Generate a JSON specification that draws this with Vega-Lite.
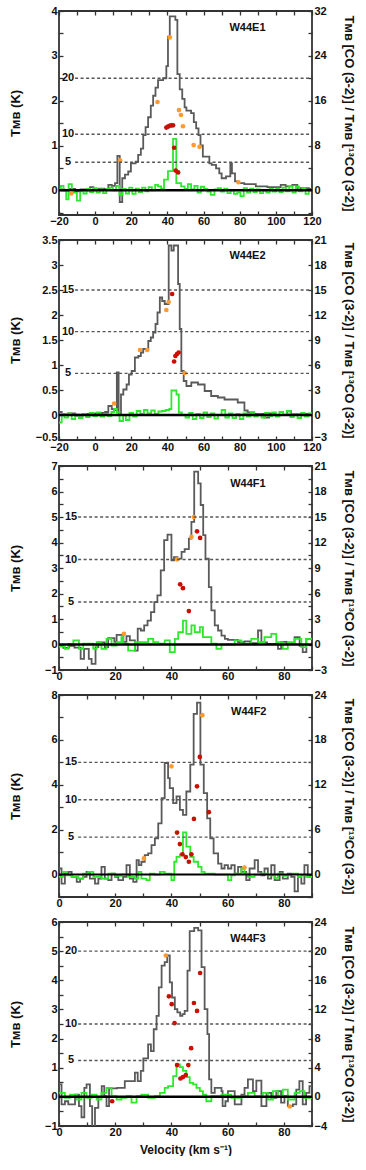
{
"$schema": "https://vega.github.io/schema/vega-lite/v6.json",
"padding": {"left": 8, "top": 4, "right": 0, "bottom": 0},
"spacing": 6,
"config": {
  "font": "Liberation Sans",
  "view": {"stroke": "#333", "strokeWidth": 1.8},
  "axis": {"domain": false, "grid": false, "labelFont": "Liberation Sans", "labelFontWeight": "bold", "labelFontSize": 11, "labelColor": "#111", "tickColor": "#333", "tickSize": -4, "tickWidth": 1.3, "labelFlush": false, "labelOverlap": false, "titleFont": "Liberation Sans", "titleFontWeight": "bold", "titleFontSize": 13, "titleColor": "#111"},
  "axisX": {"labelPadding": 4},
  "axisY": {"labelPadding": 6}
},
"datasets": {
"p1": [
{"s":"co","v":-20,"t":0.02},{"s":"co","v":-17,"t":0.0},{"s":"co","v":-14,"t":0.03},{"s":"co","v":-11,"t":-0.02},{"s":"co","v":-8,"t":0.02},{"s":"co","v":-5,"t":0.0},{"s":"co","v":-2.8,"t":0.07},{"s":"co","v":-0.9,"t":0.02},{"s":"co","v":2,"t":0.04},{"s":"co","v":5,"t":0.03},{"s":"co","v":7.3,"t":0.12},{"s":"co","v":9.2,"t":0.1},{"s":"co","v":11,"t":0.16},{"s":"co","v":12.3,"t":0.77},{"s":"co","v":13.6,"t":-0.26},{"s":"co","v":15,"t":0.27},{"s":"co","v":16.5,"t":0.35},{"s":"co","v":18.3,"t":0.42},{"s":"co","v":19.8,"t":0.6},{"s":"co","v":22.4,"t":0.64},{"s":"co","v":23.8,"t":0.79},{"s":"co","v":25.3,"t":0.93},{"s":"co","v":26.6,"t":1.23},{"s":"co","v":27.9,"t":1.41},{"s":"co","v":29.3,"t":1.63},{"s":"co","v":30.8,"t":1.89},{"s":"co","v":32.1,"t":2.11},{"s":"co","v":33.4,"t":2.29},{"s":"co","v":34.8,"t":2.46},{"s":"co","v":37.6,"t":2.5},{"s":"co","v":39.4,"t":2.77},{"s":"co","v":40.3,"t":3.43},{"s":"co","v":41.3,"t":3.88},{"s":"co","v":44.4,"t":3.8},{"s":"co","v":45.5,"t":2.59},{"s":"co","v":46.8,"t":2.25},{"s":"co","v":48.2,"t":2.04},{"s":"co","v":49.5,"t":1.85},{"s":"co","v":50.5,"t":1.78},{"s":"co","v":53.1,"t":1.72},{"s":"co","v":54.6,"t":1.52},{"s":"co","v":55.9,"t":1.38},{"s":"co","v":57.2,"t":1.23},{"s":"co","v":58.3,"t":1.0},{"s":"co","v":59.6,"t":0.75},{"s":"co","v":63.2,"t":0.6},{"s":"co","v":64.5,"t":0.57},{"s":"co","v":66.9,"t":0.49},{"s":"co","v":68.7,"t":0.38},{"s":"co","v":70,"t":0.27},{"s":"co","v":72.4,"t":0.31},{"s":"co","v":74.8,"t":0.6},{"s":"co","v":75.7,"t":0.38},{"s":"co","v":77.4,"t":0.2},{"s":"co","v":79.2,"t":0.16},{"s":"co","v":82.5,"t":0.14},{"s":"co","v":88.9,"t":0.09},{"s":"co","v":95.3,"t":0.07},{"s":"co","v":102.7,"t":0.12},{"s":"co","v":105.4,"t":0.09},{"s":"co","v":109.1,"t":0.12},{"s":"co","v":111.9,"t":0.05},{"s":"co","v":118.3,"t":0.03},{"s":"co","v":120,"t":0.03},
{"s":"c13","v":-20,"t":0.02},{"s":"c13","v":-19,"t":0.1},{"s":"c13","v":-17.5,"t":0.0},{"s":"c13","v":-16,"t":-0.2},{"s":"c13","v":-14.7,"t":0.14},{"s":"c13","v":-12.9,"t":-0.05},{"s":"c13","v":-10.1,"t":-0.23},{"s":"c13","v":-8.3,"t":0.0},{"s":"c13","v":-6.5,"t":-0.07},{"s":"c13","v":-4.7,"t":0.03},{"s":"c13","v":-2.8,"t":-0.04},{"s":"c13","v":-1,"t":0.05},{"s":"c13","v":0.8,"t":-0.05},{"s":"c13","v":2.6,"t":0.02},{"s":"c13","v":4.4,"t":-0.06},{"s":"c13","v":6.2,"t":0.03},{"s":"c13","v":8,"t":0.06},{"s":"c13","v":9.8,"t":0.0},{"s":"c13","v":11.6,"t":0.1},{"s":"c13","v":13.4,"t":-0.1},{"s":"c13","v":15.2,"t":0.03},{"s":"c13","v":17,"t":-0.07},{"s":"c13","v":18.8,"t":0.06},{"s":"c13","v":20.6,"t":-0.08},{"s":"c13","v":22.4,"t":0.04},{"s":"c13","v":24.2,"t":-0.04},{"s":"c13","v":26,"t":0.06},{"s":"c13","v":27.8,"t":-0.02},{"s":"c13","v":29.6,"t":0.07},{"s":"c13","v":31.4,"t":0.0},{"s":"c13","v":33.2,"t":0.12},{"s":"c13","v":34.8,"t":0.09},{"s":"c13","v":36.5,"t":0.04},{"s":"c13","v":38.1,"t":0.24},{"s":"c13","v":40.3,"t":0.43},{"s":"c13","v":43.1,"t":1.15},{"s":"c13","v":44.9,"t":0.16},{"s":"c13","v":47.6,"t":0.09},{"s":"c13","v":49.5,"t":0.03},{"s":"c13","v":51.3,"t":0.14},{"s":"c13","v":53.1,"t":0.02},{"s":"c13","v":54.9,"t":0.1},{"s":"c13","v":56.7,"t":-0.05},{"s":"c13","v":58.5,"t":0.08},{"s":"c13","v":60.3,"t":0.03},{"s":"c13","v":62.1,"t":-0.03},{"s":"c13","v":64,"t":-0.1},{"s":"c13","v":66,"t":0.02},{"s":"c13","v":67.8,"t":0.05},{"s":"c13","v":69.6,"t":-0.03},{"s":"c13","v":71.4,"t":0.04},{"s":"c13","v":73.2,"t":-0.06},{"s":"c13","v":75,"t":0.0},{"s":"c13","v":76.8,"t":-0.08},{"s":"c13","v":78.6,"t":-0.05},{"s":"c13","v":80.4,"t":-0.13},{"s":"c13","v":82.2,"t":0.05},{"s":"c13","v":84,"t":-0.05},{"s":"c13","v":85.8,"t":0.04},{"s":"c13","v":87.6,"t":-0.04},{"s":"c13","v":89.4,"t":0.02},{"s":"c13","v":91.2,"t":-0.06},{"s":"c13","v":93,"t":0.0},{"s":"c13","v":94.8,"t":-0.05},{"s":"c13","v":96.6,"t":0.03},{"s":"c13","v":98.4,"t":-0.03},{"s":"c13","v":100.2,"t":0.04},{"s":"c13","v":102,"t":-0.04},{"s":"c13","v":103.8,"t":0.06},{"s":"c13","v":105.6,"t":-0.02},{"s":"c13","v":107.4,"t":0.09},{"s":"c13","v":109.2,"t":-0.05},{"s":"c13","v":111,"t":0.08},{"s":"c13","v":112.8,"t":-0.02},{"s":"c13","v":114.6,"t":0.05},{"s":"c13","v":116.4,"t":-0.08},{"s":"c13","v":118.2,"t":0.0},{"s":"c13","v":120,"t":0.0},
{"s":"o","v":-13.2,"t":-0.07},{"s":"o","v":13.8,"t":0.67},{"s":"o","v":34.5,"t":1.97},{"s":"o","v":41.3,"t":3.41},{"s":"o","v":46.4,"t":1.79},{"s":"o","v":47.5,"t":1.68},{"s":"o","v":48.6,"t":1.43},{"s":"o","v":54.5,"t":1.01},{"s":"o","v":57.8,"t":0.97},{"s":"o","v":79.3,"t":0.18},
{"s":"r","v":39.4,"t":1.4},{"s":"r","v":40.3,"t":1.42},{"s":"r","v":41.2,"t":1.44},{"s":"r","v":42.1,"t":1.45},{"s":"r","v":43.1,"t":1.45},{"s":"r","v":43.7,"t":0.95},{"s":"r","v":44.6,"t":0.44},{"s":"r","v":45.9,"t":0.4}
],
"p2": [
{"s":"co","v":-20,"t":0.06},{"s":"co","v":-18.5,"t":0.01},{"s":"co","v":-15,"t":0.03},{"s":"co","v":-11,"t":-0.01},{"s":"co","v":-7,"t":0.02},{"s":"co","v":-3,"t":0.0},{"s":"co","v":0,"t":0.03},{"s":"co","v":3.7,"t":0.04},{"s":"co","v":5.5,"t":0.06},{"s":"co","v":7.3,"t":0.18},{"s":"co","v":9.2,"t":0.12},{"s":"co","v":10.5,"t":0.1},{"s":"co","v":12,"t":0.85},{"s":"co","v":13,"t":0.03},{"s":"co","v":14.3,"t":0.41},{"s":"co","v":15.6,"t":0.51},{"s":"co","v":17.4,"t":0.61},{"s":"co","v":18.7,"t":0.81},{"s":"co","v":20.2,"t":0.88},{"s":"co","v":22,"t":1.15},{"s":"co","v":23.9,"t":1.18},{"s":"co","v":25.3,"t":1.25},{"s":"co","v":26.6,"t":1.32},{"s":"co","v":29.4,"t":1.48},{"s":"co","v":30.8,"t":1.55},{"s":"co","v":32.1,"t":1.65},{"s":"co","v":33.4,"t":1.82},{"s":"co","v":34.5,"t":2.05},{"s":"co","v":35.8,"t":2.35},{"s":"co","v":37.1,"t":2.28},{"s":"co","v":38.5,"t":2.22},{"s":"co","v":40.7,"t":3.39},{"s":"co","v":42.2,"t":3.29},{"s":"co","v":43.5,"t":3.39},{"s":"co","v":45.9,"t":2.62},{"s":"co","v":46.8,"t":1.72},{"s":"co","v":47.7,"t":0.88},{"s":"co","v":49,"t":0.68},{"s":"co","v":50.5,"t":0.58},{"s":"co","v":53.2,"t":0.65},{"s":"co","v":56.9,"t":0.61},{"s":"co","v":60.6,"t":0.48},{"s":"co","v":64.2,"t":0.38},{"s":"co","v":67.9,"t":0.35},{"s":"co","v":71.6,"t":0.31},{"s":"co","v":78.9,"t":0.25},{"s":"co","v":82.6,"t":0.09},{"s":"co","v":84.4,"t":0.05},{"s":"co","v":88,"t":0.02},{"s":"co","v":93.6,"t":-0.05},{"s":"co","v":96.3,"t":0.03},{"s":"co","v":99,"t":0.0},{"s":"co","v":106.4,"t":0.08},{"s":"co","v":108.3,"t":0.01},{"s":"co","v":114,"t":0.02},{"s":"co","v":120,"t":0.02},
{"s":"c13","v":-20,"t":-0.15},{"s":"c13","v":-18.5,"t":0.02},{"s":"c13","v":-17,"t":-0.05},{"s":"c13","v":-15,"t":0.03},{"s":"c13","v":-13,"t":-0.08},{"s":"c13","v":-11,"t":0.01},{"s":"c13","v":-9,"t":-0.06},{"s":"c13","v":-7,"t":0.02},{"s":"c13","v":-5,"t":-0.04},{"s":"c13","v":-3,"t":0.04},{"s":"c13","v":-1,"t":-0.02},{"s":"c13","v":1,"t":0.05},{"s":"c13","v":3,"t":-0.03},{"s":"c13","v":5,"t":0.02},{"s":"c13","v":7,"t":-0.02},{"s":"c13","v":9,"t":0.06},{"s":"c13","v":10.5,"t":0.12},{"s":"c13","v":12,"t":0.05},{"s":"c13","v":13.5,"t":-0.12},{"s":"c13","v":15.5,"t":0.0},{"s":"c13","v":17,"t":-0.1},{"s":"c13","v":19,"t":0.04},{"s":"c13","v":21,"t":-0.03},{"s":"c13","v":23,"t":0.08},{"s":"c13","v":25,"t":0.02},{"s":"c13","v":27,"t":0.1},{"s":"c13","v":29,"t":0.03},{"s":"c13","v":31,"t":0.09},{"s":"c13","v":33,"t":0.02},{"s":"c13","v":35,"t":0.07},{"s":"c13","v":37,"t":0.08},{"s":"c13","v":39,"t":0.1},{"s":"c13","v":41,"t":0.12},{"s":"c13","v":42.2,"t":0.49},{"s":"c13","v":45,"t":0.41},{"s":"c13","v":46.3,"t":0.05},{"s":"c13","v":48,"t":0.0},{"s":"c13","v":50,"t":-0.05},{"s":"c13","v":52,"t":0.04},{"s":"c13","v":54,"t":-0.08},{"s":"c13","v":56,"t":0.02},{"s":"c13","v":58,"t":-0.06},{"s":"c13","v":60,"t":0.05},{"s":"c13","v":62,"t":-0.04},{"s":"c13","v":64,"t":0.03},{"s":"c13","v":66,"t":-0.07},{"s":"c13","v":68,"t":0.0},{"s":"c13","v":70,"t":0.1},{"s":"c13","v":72,"t":-0.05},{"s":"c13","v":74,"t":0.03},{"s":"c13","v":76,"t":-0.06},{"s":"c13","v":78,"t":0.02},{"s":"c13","v":80,"t":-0.08},{"s":"c13","v":82,"t":0.03},{"s":"c13","v":84,"t":-0.03},{"s":"c13","v":86,"t":0.05},{"s":"c13","v":88,"t":-0.03},{"s":"c13","v":90,"t":0.01},{"s":"c13","v":92,"t":-0.05},{"s":"c13","v":94,"t":0.04},{"s":"c13","v":96,"t":-0.02},{"s":"c13","v":98,"t":0.05},{"s":"c13","v":100,"t":-0.03},{"s":"c13","v":102,"t":0.06},{"s":"c13","v":104,"t":0.0},{"s":"c13","v":106,"t":0.08},{"s":"c13","v":108,"t":-0.04},{"s":"c13","v":110,"t":0.02},{"s":"c13","v":112,"t":-0.06},{"s":"c13","v":114,"t":0.04},{"s":"c13","v":116,"t":-0.03},{"s":"c13","v":118,"t":0.03},{"s":"c13","v":120,"t":0.03},
{"s":"o","v":10.5,"t":0.23},{"s":"o","v":24.8,"t":1.3},{"s":"o","v":28.8,"t":1.3},{"s":"o","v":39.4,"t":2.1},{"s":"o","v":40.7,"t":2.26},{"s":"o","v":49.5,"t":0.84},
{"s":"r","v":42.6,"t":2.42},{"s":"r","v":43.7,"t":1.07},{"s":"r","v":44.4,"t":1.18},{"s":"r","v":45.3,"t":1.22},{"s":"r","v":46.2,"t":1.25}
],
"p3": [
{"s":"co","v":0,"t":-0.02},{"s":"co","v":1.5,"t":-0.13},{"s":"co","v":3.5,"t":-0.05},{"s":"co","v":5.5,"t":-0.12},{"s":"co","v":7.7,"t":-0.56},{"s":"co","v":8.9,"t":-0.17},{"s":"co","v":10.6,"t":-0.56},{"s":"co","v":11.6,"t":-0.76},{"s":"co","v":13,"t":-0.1},{"s":"co","v":14,"t":0.08},{"s":"co","v":16.3,"t":-0.1},{"s":"co","v":17.5,"t":0.25},{"s":"co","v":19.7,"t":0.1},{"s":"co","v":20.5,"t":0.38},{"s":"co","v":22.9,"t":0.1},{"s":"co","v":24,"t":0.33},{"s":"co","v":25.2,"t":0.16},{"s":"co","v":27,"t":-0.24},{"s":"co","v":28,"t":0.62},{"s":"co","v":29.1,"t":0.55},{"s":"co","v":30.3,"t":0.75},{"s":"co","v":31.5,"t":0.94},{"s":"co","v":32.7,"t":1.27},{"s":"co","v":33.9,"t":1.66},{"s":"co","v":35,"t":1.93},{"s":"co","v":36.2,"t":2.91},{"s":"co","v":37.4,"t":4.09},{"s":"co","v":38.6,"t":4.31},{"s":"co","v":40,"t":3.3},{"s":"co","v":40.9,"t":3.43},{"s":"co","v":42.1,"t":3.37},{"s":"co","v":43.6,"t":3.63},{"s":"co","v":44.7,"t":3.74},{"s":"co","v":46.2,"t":4.15},{"s":"co","v":47.1,"t":4.81},{"s":"co","v":48.1,"t":6.78},{"s":"co","v":49.5,"t":6.32},{"s":"co","v":50.4,"t":5.47},{"s":"co","v":51.3,"t":4.29},{"s":"co","v":52.1,"t":3.37},{"s":"co","v":53.3,"t":2.25},{"s":"co","v":54.2,"t":1.34},{"s":"co","v":55.4,"t":0.75},{"s":"co","v":56.6,"t":0.55},{"s":"co","v":57.8,"t":0.35},{"s":"co","v":59,"t":0.22},{"s":"co","v":60.1,"t":0.18},{"s":"co","v":63.7,"t":0.09},{"s":"co","v":66,"t":0.12},{"s":"co","v":68,"t":0.05},{"s":"co","v":70.8,"t":0.55},{"s":"co","v":72,"t":0.08},{"s":"co","v":74,"t":0.02},{"s":"co","v":77.9,"t":-0.17},{"s":"co","v":79,"t":0.1},{"s":"co","v":81,"t":0.05},{"s":"co","v":83.8,"t":0.29},{"s":"co","v":85.6,"t":-0.05},{"s":"co","v":86.7,"t":-0.3},{"s":"co","v":88,"t":0.22},{"s":"co","v":90,"t":0.22},
{"s":"c13","v":0,"t":-0.08},{"s":"c13","v":2.1,"t":-0.17},{"s":"c13","v":3.3,"t":0.02},{"s":"c13","v":5.1,"t":0.16},{"s":"c13","v":7.1,"t":-0.17},{"s":"c13","v":8.6,"t":0.03},{"s":"c13","v":12.2,"t":-0.17},{"s":"c13","v":13.4,"t":0.09},{"s":"c13","v":15.1,"t":-0.17},{"s":"c13","v":16.9,"t":0.22},{"s":"c13","v":18.7,"t":-0.04},{"s":"c13","v":20.5,"t":0.09},{"s":"c13","v":22.2,"t":0.29},{"s":"c13","v":22.8,"t":0.03},{"s":"c13","v":24.6,"t":-0.24},{"s":"c13","v":27,"t":0.09},{"s":"c13","v":31.7,"t":0.22},{"s":"c13","v":33.5,"t":0.09},{"s":"c13","v":35.3,"t":0.03},{"s":"c13","v":37.6,"t":0.16},{"s":"c13","v":39.4,"t":-0.3},{"s":"c13","v":41.2,"t":0.22},{"s":"c13","v":42.4,"t":0.48},{"s":"c13","v":44.1,"t":0.94},{"s":"c13","v":45.3,"t":0.42},{"s":"c13","v":47.1,"t":0.75},{"s":"c13","v":48.3,"t":0.48},{"s":"c13","v":50.1,"t":0.68},{"s":"c13","v":51.2,"t":0.29},{"s":"c13","v":54.2,"t":0.03},{"s":"c13","v":56,"t":-0.17},{"s":"c13","v":57.8,"t":0.0},{"s":"c13","v":62.5,"t":0.16},{"s":"c13","v":64.9,"t":0.03},{"s":"c13","v":68.4,"t":0.22},{"s":"c13","v":70.8,"t":0.09},{"s":"c13","v":73.1,"t":0.29},{"s":"c13","v":75.5,"t":0.42},{"s":"c13","v":77.3,"t":0.09},{"s":"c13","v":79.6,"t":-0.17},{"s":"c13","v":81.4,"t":0.09},{"s":"c13","v":83.8,"t":0.22},{"s":"c13","v":86.2,"t":-0.1},{"s":"c13","v":87.9,"t":0.22},{"s":"c13","v":90,"t":0.22},
{"s":"o","v":23.1,"t":0.42},{"s":"o","v":42,"t":3.34},{"s":"o","v":47.1,"t":4.22},{"s":"o","v":48,"t":5.0},
{"s":"r","v":43.1,"t":2.36},{"s":"r","v":44.1,"t":2.21},{"s":"r","v":46.2,"t":1.31},{"s":"r","v":49.1,"t":4.44},{"s":"r","v":50.2,"t":4.18}
],
"p4": [
{"s":"co","v":0,"t":0.27},{"s":"co","v":0.9,"t":-0.4},{"s":"co","v":2.1,"t":0.04},{"s":"co","v":3.3,"t":0.12},{"s":"co","v":4.5,"t":-0.1},{"s":"co","v":6.3,"t":-0.33},{"s":"co","v":7.5,"t":-0.18},{"s":"co","v":8.6,"t":-0.1},{"s":"co","v":9.8,"t":0.12},{"s":"co","v":11,"t":-0.18},{"s":"co","v":12.8,"t":-0.4},{"s":"co","v":14,"t":-0.18},{"s":"co","v":15.1,"t":0.34},{"s":"co","v":16.3,"t":-0.18},{"s":"co","v":17.5,"t":-0.25},{"s":"co","v":18.7,"t":0.04},{"s":"co","v":19.9,"t":-0.1},{"s":"co","v":21.1,"t":-0.25},{"s":"co","v":22.8,"t":-0.1},{"s":"co","v":24,"t":0.42},{"s":"co","v":25.2,"t":-0.18},{"s":"co","v":26.4,"t":-0.33},{"s":"co","v":27.6,"t":0.64},{"s":"co","v":28.4,"t":0.42},{"s":"co","v":29.3,"t":0.57},{"s":"co","v":30.5,"t":0.87},{"s":"co","v":31.7,"t":0.94},{"s":"co","v":32.9,"t":1.31},{"s":"co","v":34.1,"t":1.61},{"s":"co","v":35.3,"t":2.28},{"s":"co","v":36.5,"t":3.4},{"s":"co","v":37.6,"t":4.97},{"s":"co","v":38.8,"t":4.3},{"s":"co","v":39.4,"t":3.85},{"s":"co","v":40.6,"t":3.18},{"s":"co","v":41.8,"t":3.48},{"s":"co","v":43,"t":2.88},{"s":"co","v":44.1,"t":2.66},{"s":"co","v":45.3,"t":3.7},{"s":"co","v":46.7,"t":4.9},{"s":"co","v":47.9,"t":7.16},{"s":"co","v":49.1,"t":7.66},{"s":"co","v":50.3,"t":4.9},{"s":"co","v":51.5,"t":3.63},{"s":"co","v":52.7,"t":2.5},{"s":"co","v":53.8,"t":1.61},{"s":"co","v":55,"t":0.94},{"s":"co","v":56.6,"t":0.49},{"s":"co","v":57.8,"t":0.27},{"s":"co","v":58.9,"t":0.42},{"s":"co","v":60.1,"t":0.27},{"s":"co","v":61.3,"t":0.42},{"s":"co","v":62.5,"t":0.04},{"s":"co","v":63.7,"t":0.34},{"s":"co","v":64.9,"t":0.12},{"s":"co","v":66.6,"t":-0.25},{"s":"co","v":67.8,"t":0.27},{"s":"co","v":69.6,"t":0.64},{"s":"co","v":70.8,"t":0.12},{"s":"co","v":72,"t":-0.03},{"s":"co","v":73.1,"t":0.27},{"s":"co","v":74.3,"t":-0.18},{"s":"co","v":75.5,"t":0.42},{"s":"co","v":76.7,"t":-0.25},{"s":"co","v":78.5,"t":0.12},{"s":"co","v":79.6,"t":-0.18},{"s":"co","v":81.4,"t":0.04},{"s":"co","v":82.6,"t":-0.1},{"s":"co","v":83.8,"t":-0.75},{"s":"co","v":85,"t":-0.1},{"s":"co","v":86.2,"t":-0.4},{"s":"co","v":87.3,"t":0.42},{"s":"co","v":88.5,"t":-0.1},{"s":"co","v":90,"t":-0.1},
{"s":"c13","v":0,"t":-0.1},{"s":"c13","v":1.5,"t":0.12},{"s":"c13","v":2.7,"t":-0.03},{"s":"c13","v":4.5,"t":-0.1},{"s":"c13","v":6.9,"t":-0.18},{"s":"c13","v":8.6,"t":0.04},{"s":"c13","v":10.4,"t":0.12},{"s":"c13","v":12.2,"t":-0.1},{"s":"c13","v":15.1,"t":-0.18},{"s":"c13","v":17.5,"t":0.04},{"s":"c13","v":19.9,"t":-0.06},{"s":"c13","v":22.2,"t":0.0},{"s":"c13","v":24.6,"t":-0.1},{"s":"c13","v":27,"t":-0.18},{"s":"c13","v":28.2,"t":0.12},{"s":"c13","v":29.3,"t":-0.18},{"s":"c13","v":31.1,"t":-0.25},{"s":"c13","v":32.3,"t":0.04},{"s":"c13","v":34.1,"t":0.0},{"s":"c13","v":35.9,"t":0.12},{"s":"c13","v":37.6,"t":0.04},{"s":"c13","v":40,"t":-0.25},{"s":"c13","v":41,"t":0.57},{"s":"c13","v":41.8,"t":0.79},{"s":"c13","v":43,"t":0.9},{"s":"c13","v":44.1,"t":1.88},{"s":"c13","v":45.3,"t":1.24},{"s":"c13","v":46.7,"t":0.79},{"s":"c13","v":47.9,"t":0.57},{"s":"c13","v":49.5,"t":0.34},{"s":"c13","v":50.7,"t":0.12},{"s":"c13","v":51.8,"t":0.04},{"s":"c13","v":55.4,"t":0.0},{"s":"c13","v":60.1,"t":-0.25},{"s":"c13","v":61.3,"t":-0.03},{"s":"c13","v":62.5,"t":0.04},{"s":"c13","v":64.9,"t":0.27},{"s":"c13","v":66,"t":0.04},{"s":"c13","v":67.2,"t":-0.1},{"s":"c13","v":69.6,"t":0.0},{"s":"c13","v":72,"t":0.04},{"s":"c13","v":74.3,"t":-0.03},{"s":"c13","v":76.7,"t":-0.15},{"s":"c13","v":77.9,"t":0.04},{"s":"c13","v":79.6,"t":-0.06},{"s":"c13","v":81.4,"t":0.0},{"s":"c13","v":83.2,"t":0.04},{"s":"c13","v":85,"t":-0.1},{"s":"c13","v":86.2,"t":-0.03},{"s":"c13","v":87.9,"t":-0.1},{"s":"c13","v":90,"t":-0.1},
{"s":"o","v":30.2,"t":0.72},{"s":"o","v":40,"t":4.82},{"s":"o","v":51,"t":7.1},{"s":"o","v":66,"t":0.31},
{"s":"r","v":50.1,"t":5.24},{"s":"r","v":49.1,"t":3.93},{"s":"r","v":53.3,"t":2.78},{"s":"r","v":48,"t":2.48},{"s":"r","v":42,"t":1.87},{"s":"r","v":43,"t":1.36},{"s":"r","v":43.9,"t":0.9},{"s":"r","v":45.1,"t":0.78},{"s":"r","v":46.2,"t":0.57},{"s":"r","v":47.1,"t":0.9}
],
"p5": [
{"s":"co","v":0,"t":0.43},{"s":"co","v":0.9,"t":-0.26},{"s":"co","v":2.1,"t":-0.15},{"s":"co","v":3.3,"t":-0.26},{"s":"co","v":5.7,"t":0.08},{"s":"co","v":7.1,"t":-0.32},{"s":"co","v":8,"t":-0.7},{"s":"co","v":9,"t":0.31},{"s":"co","v":9.8,"t":0.43},{"s":"co","v":11,"t":-0.32},{"s":"co","v":11.8,"t":-1.2},{"s":"co","v":12.8,"t":-0.38},{"s":"co","v":14,"t":0.0},{"s":"co","v":15.2,"t":0.37},{"s":"co","v":16.1,"t":0.02},{"s":"co","v":16.9,"t":-0.32},{"s":"co","v":17.8,"t":0.29},{"s":"co","v":20.7,"t":0.31},{"s":"co","v":23.4,"t":0.54},{"s":"co","v":27,"t":0.83},{"s":"co","v":28,"t":0.54},{"s":"co","v":29.1,"t":0.89},{"s":"co","v":30,"t":1.32},{"s":"co","v":31.7,"t":1.8},{"s":"co","v":32.7,"t":1.57},{"s":"co","v":33.7,"t":2.32},{"s":"co","v":34.7,"t":2.78},{"s":"co","v":35.5,"t":3.76},{"s":"co","v":36.5,"t":4.5},{"s":"co","v":37.6,"t":4.62},{"s":"co","v":38.5,"t":4.85},{"s":"co","v":39.4,"t":3.93},{"s":"co","v":40.2,"t":3.41},{"s":"co","v":41.2,"t":3.01},{"s":"co","v":42.1,"t":2.9},{"s":"co","v":43.1,"t":2.78},{"s":"co","v":43.9,"t":2.84},{"s":"co","v":44.7,"t":2.95},{"s":"co","v":45.7,"t":4.33},{"s":"co","v":46.5,"t":5.69},{"s":"co","v":48.1,"t":5.8},{"s":"co","v":49.5,"t":5.71},{"s":"co","v":50.7,"t":4.45},{"s":"co","v":51.8,"t":3.01},{"s":"co","v":52.8,"t":2.15},{"s":"co","v":53.4,"t":0.6},{"s":"co","v":54.2,"t":0.14},{"s":"co","v":55.4,"t":0.31},{"s":"co","v":57.8,"t":0.2},{"s":"co","v":58.2,"t":-0.32},{"s":"co","v":59.2,"t":-0.15},{"s":"co","v":60.1,"t":0.2},{"s":"co","v":62.5,"t":-0.26},{"s":"co","v":64.9,"t":0.08},{"s":"co","v":66,"t":0.31},{"s":"co","v":67.2,"t":0.6},{"s":"co","v":69,"t":0.2},{"s":"co","v":70.2,"t":0.56},{"s":"co","v":72,"t":-0.32},{"s":"co","v":73.8,"t":0.14},{"s":"co","v":75.5,"t":-0.03},{"s":"co","v":77.3,"t":0.2},{"s":"co","v":79,"t":-0.2},{"s":"co","v":80.2,"t":0.02},{"s":"co","v":81.4,"t":-0.32},{"s":"co","v":83.2,"t":-0.26},{"s":"co","v":84.4,"t":0.25},{"s":"co","v":85.5,"t":0.54},{"s":"co","v":86.7,"t":-0.26},{"s":"co","v":87.9,"t":0.14},{"s":"co","v":89.1,"t":0.37},{"s":"co","v":90,"t":0.37},
{"s":"c13","v":0,"t":0.14},{"s":"c13","v":2.1,"t":-0.03},{"s":"c13","v":3.9,"t":0.08},{"s":"c13","v":6.3,"t":-0.09},{"s":"c13","v":8,"t":0.14},{"s":"c13","v":9.8,"t":-0.03},{"s":"c13","v":11.6,"t":0.08},{"s":"c13","v":13.4,"t":-0.09},{"s":"c13","v":15.1,"t":0.14},{"s":"c13","v":16.9,"t":0.31},{"s":"c13","v":18.7,"t":0.02},{"s":"c13","v":20.5,"t":-0.09},{"s":"c13","v":22.2,"t":-0.03},{"s":"c13","v":24,"t":0.02},{"s":"c13","v":25.8,"t":-0.2},{"s":"c13","v":27.6,"t":0.02},{"s":"c13","v":29.3,"t":0.08},{"s":"c13","v":31.7,"t":-0.03},{"s":"c13","v":34.1,"t":0.02},{"s":"c13","v":35.9,"t":0.14},{"s":"c13","v":37.6,"t":0.31},{"s":"c13","v":38.8,"t":0.37},{"s":"c13","v":40.6,"t":0.71},{"s":"c13","v":41.8,"t":1.11},{"s":"c13","v":43,"t":1.02},{"s":"c13","v":44.1,"t":0.89},{"s":"c13","v":45.3,"t":0.68},{"s":"c13","v":46.5,"t":0.48},{"s":"c13","v":47.7,"t":0.43},{"s":"c13","v":48.9,"t":0.31},{"s":"c13","v":50.1,"t":0.2},{"s":"c13","v":51.2,"t":0.08},{"s":"c13","v":52.4,"t":-0.15},{"s":"c13","v":54.2,"t":0.02},{"s":"c13","v":57.8,"t":0.08},{"s":"c13","v":61.3,"t":-0.03},{"s":"c13","v":64.9,"t":0.02},{"s":"c13","v":67.2,"t":0.14},{"s":"c13","v":69.6,"t":0.02},{"s":"c13","v":72.5,"t":0.14},{"s":"c13","v":74.3,"t":-0.09},{"s":"c13","v":76.1,"t":0.2},{"s":"c13","v":77.9,"t":0.02},{"s":"c13","v":79.6,"t":0.25},{"s":"c13","v":81.4,"t":-0.09},{"s":"c13","v":83.8,"t":0.14},{"s":"c13","v":85.6,"t":0.2},{"s":"c13","v":87.3,"t":-0.03},{"s":"c13","v":90,"t":-0.03},
{"s":"o","v":38,"t":4.85},{"s":"o","v":82.1,"t":-0.33},
{"s":"r","v":18.9,"t":-0.15},{"s":"r","v":39.1,"t":3.45},{"s":"r","v":40.1,"t":3.18},{"s":"r","v":41.1,"t":2.53},{"s":"r","v":42,"t":1.09},{"s":"r","v":43.2,"t":0.63},{"s":"r","v":44.1,"t":0.68},{"s":"r","v":45.1,"t":0.75},{"s":"r","v":46,"t":1.09},{"s":"r","v":47,"t":1.67},{"s":"r","v":48,"t":3.22},{"s":"r","v":49.1,"t":2.95},{"s":"r","v":50.2,"t":4.25}
]
},
"vconcat": [
{
 "width": 253, "height": 204,
 "resolve": {"scale": {"y": "independent"}, "axis": {"x": "independent"}},
 "layer": [
  {"layer": [
   {"data": {"name": "p1"}, "transform": [{"filter": "datum.s==='co'"}], "mark": {"type": "line", "interpolate": "step-after", "color": "#5a5a5a", "strokeWidth": 1.8, "clip": true},
    "encoding": {"x": {"field": "v", "type": "quantitative", "scale": {"domain": [-20, 120], "nice": false, "zero": false}, "axis": {"values": [-20,-10,0,10,20,30,40,50,60,70,80,90,100,110,120], "tickCount": 200, "format": ".2~f", "labelExpr": "datum.value % 20 == 0 ? datum.label : ''", "labelOverlap": false, "title": null}},
     "y": {"field": "t", "type": "quantitative", "scale": {"domain": [-0.55, 4], "nice": false, "zero": false}, "axis": {"orient": "left", "values": [-0.5,0,0.5,1,1.5,2,2.5,3,3.5,4], "tickCount": 200, "format": ".2~f", "labelExpr": "datum.value % 1 == 0 && datum.value >= 0 ? datum.label : ''", "labelOverlap": false, "title": "Tᴍʙ (K)", "titleX": -44, "titleBaseline": "middle"}}}},
   {"data": {"name": "p1"}, "transform": [{"filter": "datum.s==='c13'"}], "mark": {"type": "line", "interpolate": "step-after", "color": "#2ee82e", "strokeWidth": 1.8, "clip": true},
    "encoding": {"x": {"field": "v", "type": "quantitative"}, "y": {"field": "t", "type": "quantitative"}}},
   {"data": {"values": [{"z": 0}]}, "mark": {"type": "rule", "color": "#000", "strokeWidth": 2.5}, "encoding": {"y": {"field": "z", "type": "quantitative"}}},
   {"data": {"name": "p1"}, "transform": [{"filter": "datum.s==='o'"}], "mark": {"type": "circle", "color": "#ff9a2e", "opacity": 1, "size": 22},
    "encoding": {"x": {"field": "v", "type": "quantitative"}, "y": {"field": "t", "type": "quantitative"}}},
   {"data": {"name": "p1"}, "transform": [{"filter": "datum.s==='r'"}], "mark": {"type": "circle", "color": "#c80f00", "opacity": 1, "size": 22},
    "encoding": {"x": {"field": "v", "type": "quantitative"}, "y": {"field": "t", "type": "quantitative"}}},
   {"data": {"values": [{"name": "W44E1", "v": 84.3, "t": 3.62}]}, "mark": {"type": "text", "font": "Liberation Sans", "fontWeight": "bold", "fontSize": 11, "color": "#111"},
    "encoding": {"x": {"field": "v", "type": "quantitative"}, "y": {"field": "t", "type": "quantitative"}, "text": {"field": "name"}}}
  ]},
  {"data": {"values": [{"r": 5, "a": -11.1, "b": 120, "c": -15}, {"r": 10, "a": -11.1, "b": 120, "c": -15}, {"r": 20, "a": -11.1, "b": 120, "c": -15}]},
   "layer": [
   {"mark": {"type": "rule", "color": "#555", "strokeWidth": 1.4, "strokeDash": [3, 2.5]},
    "encoding": {"y": {"field": "r", "type": "quantitative", "scale": {"domain": [-4.4, 32], "nice": false, "zero": false}, "axis": {"orient": "right", "values": [-4,0,4,8,12,16,20,24,28,32], "tickCount": 200, "format": ".2~f", "labelExpr": "datum.value % 8 == 0 && datum.value >= 0 ? datum.label : ''", "labelOverlap": false, "title": "Tᴍʙ [CO (3-2)] / Tᴍʙ [¹³CO (3-2)]", "titleX": 36, "titleBaseline": "middle"}},
     "x": {"field": "a", "type": "quantitative", "axis": {"orient": "top", "values": [-20,-10,0,10,20,30,40,50,60,70,80,90,100,110,120], "tickCount": 200, "labels": false, "title": null}}, "x2": {"field": "b"}}},
   {"mark": {"type": "text", "font": "Liberation Sans", "fontWeight": "bold", "fontSize": 11, "color": "#111", "align": "center", "baseline": "middle"},
    "encoding": {"y": {"field": "r", "type": "quantitative"}, "x": {"field": "c", "type": "quantitative"}, "text": {"field": "r", "type": "quantitative"}}}
  ]}
 ]
},
{
 "width": 253, "height": 200,
 "resolve": {"scale": {"y": "independent"}, "axis": {"x": "independent"}},
 "layer": [
  {"layer": [
   {"data": {"name": "p2"}, "transform": [{"filter": "datum.s==='co'"}], "mark": {"type": "line", "interpolate": "step-after", "color": "#5a5a5a", "strokeWidth": 1.8, "clip": true},
    "encoding": {"x": {"field": "v", "type": "quantitative", "scale": {"domain": [-20, 120], "nice": false, "zero": false}, "axis": {"values": [-20,-10,0,10,20,30,40,50,60,70,80,90,100,110,120], "tickCount": 200, "format": ".2~f", "labelExpr": "datum.value % 20 == 0 ? datum.label : ''", "labelOverlap": false, "labelPadding": 5, "title": null}},
     "y": {"field": "t", "type": "quantitative", "scale": {"domain": [-0.5, 3.5], "nice": false, "zero": false}, "axis": {"orient": "left", "values": [-0.5,0,0.5,1,1.5,2,2.5,3,3.5], "tickCount": 200, "format": ".2~f", "labelOverlap": false, "labelBaseline": {"condition": {"test": "datum.value < -0.4", "value": "alphabetic"}, "value": "middle"}, "title": "Tᴍʙ (K)", "titleX": -44, "titleBaseline": "middle"}}}},
   {"data": {"name": "p2"}, "transform": [{"filter": "datum.s==='c13'"}], "mark": {"type": "line", "interpolate": "step-after", "color": "#2ee82e", "strokeWidth": 1.8, "clip": true},
    "encoding": {"x": {"field": "v", "type": "quantitative"}, "y": {"field": "t", "type": "quantitative"}}},
   {"data": {"values": [{"z": 0}]}, "mark": {"type": "rule", "color": "#000", "strokeWidth": 2.5}, "encoding": {"y": {"field": "z", "type": "quantitative"}}},
   {"data": {"name": "p2"}, "transform": [{"filter": "datum.s==='o'"}], "mark": {"type": "circle", "color": "#ff9a2e", "opacity": 1, "size": 22},
    "encoding": {"x": {"field": "v", "type": "quantitative"}, "y": {"field": "t", "type": "quantitative"}}},
   {"data": {"name": "p2"}, "transform": [{"filter": "datum.s==='r'"}], "mark": {"type": "circle", "color": "#c80f00", "opacity": 1, "size": 22},
    "encoding": {"x": {"field": "v", "type": "quantitative"}, "y": {"field": "t", "type": "quantitative"}}},
   {"data": {"values": [{"name": "W44E2", "v": 84.3, "t": 3.19}]}, "mark": {"type": "text", "font": "Liberation Sans", "fontWeight": "bold", "fontSize": 11, "color": "#111"},
    "encoding": {"x": {"field": "v", "type": "quantitative"}, "y": {"field": "t", "type": "quantitative"}, "text": {"field": "name"}}}
  ]},
  {"data": {"values": [{"r": 5, "a": -11.1, "b": 120, "c": -15}, {"r": 10, "a": -11.1, "b": 120, "c": -15}, {"r": 15, "a": -11.1, "b": 120, "c": -15}]},
   "layer": [
   {"mark": {"type": "rule", "color": "#555", "strokeWidth": 1.4, "strokeDash": [3, 2.5]},
    "encoding": {"y": {"field": "r", "type": "quantitative", "scale": {"domain": [-3, 21], "nice": false, "zero": false}, "axis": {"orient": "right", "values": [-3,0,3,6,9,12,15,18,21], "tickCount": 200, "format": ".2~f", "labelOverlap": false, "labelBaseline": {"condition": {"test": "datum.value < -2", "value": "alphabetic"}, "value": "middle"}, "title": "Tᴍʙ [CO (3-2)] / Tᴍʙ [¹³CO (3-2)]", "titleX": 36, "titleBaseline": "middle"}},
     "x": {"field": "a", "type": "quantitative", "axis": {"orient": "top", "values": [-20,-10,0,10,20,30,40,50,60,70,80,90,100,110,120], "tickCount": 200, "labels": false, "title": null}}, "x2": {"field": "b"}}},
   {"mark": {"type": "text", "font": "Liberation Sans", "fontWeight": "bold", "fontSize": 11, "color": "#111", "align": "center", "baseline": "middle"},
    "encoding": {"y": {"field": "r", "type": "quantitative"}, "x": {"field": "c", "type": "quantitative"}, "text": {"field": "r", "type": "quantitative"}}}
  ]}
 ]
},
{
 "width": 253, "height": 204,
 "resolve": {"scale": {"y": "independent"}, "axis": {"x": "independent"}},
 "layer": [
  {"layer": [
   {"data": {"name": "p3"}, "transform": [{"filter": "datum.s==='co'"}], "mark": {"type": "line", "interpolate": "step-after", "color": "#5a5a5a", "strokeWidth": 1.8, "clip": true},
    "encoding": {"x": {"field": "v", "type": "quantitative", "scale": {"domain": [0, 90], "nice": false, "zero": false}, "axis": {"values": [0,10,20,30,40,50,60,70,80,90], "tickCount": 200, "format": ".2~f", "labelExpr": "datum.value % 20 == 0 ? datum.label : ''", "labelOverlap": false, "title": null}},
     "y": {"field": "t", "type": "quantitative", "scale": {"domain": [-1, 7], "nice": false, "zero": false}, "axis": {"orient": "left", "values": [-1,-0.5,0,0.5,1,1.5,2,2.5,3,3.5,4,4.5,5,5.5,6,6.5,7], "tickCount": 200, "format": ".2~f", "labelExpr": "datum.value % 1 == 0 ? datum.label : ''", "labelOverlap": false, "title": "Tᴍʙ (K)", "titleX": -44, "titleBaseline": "middle"}}}},
   {"data": {"name": "p3"}, "transform": [{"filter": "datum.s==='c13'"}], "mark": {"type": "line", "interpolate": "step-after", "color": "#2ee82e", "strokeWidth": 1.8, "clip": true},
    "encoding": {"x": {"field": "v", "type": "quantitative"}, "y": {"field": "t", "type": "quantitative"}}},
   {"data": {"values": [{"z": 0}]}, "mark": {"type": "rule", "color": "#000", "strokeWidth": 2.5}, "encoding": {"y": {"field": "z", "type": "quantitative"}}},
   {"data": {"name": "p3"}, "transform": [{"filter": "datum.s==='o'"}], "mark": {"type": "circle", "color": "#ff9a2e", "opacity": 1, "size": 22},
    "encoding": {"x": {"field": "v", "type": "quantitative"}, "y": {"field": "t", "type": "quantitative"}}},
   {"data": {"name": "p3"}, "transform": [{"filter": "datum.s==='r'"}], "mark": {"type": "circle", "color": "#c80f00", "opacity": 1, "size": 22},
    "encoding": {"x": {"field": "v", "type": "quantitative"}, "y": {"field": "t", "type": "quantitative"}}},
   {"data": {"values": [{"name": "W44F1", "v": 67.2, "t": 6.29}]}, "mark": {"type": "text", "font": "Liberation Sans", "fontWeight": "bold", "fontSize": 11, "color": "#111"},
    "encoding": {"x": {"field": "v", "type": "quantitative"}, "y": {"field": "t", "type": "quantitative"}, "text": {"field": "name"}}}
  ]},
  {"data": {"values": [{"r": 5, "a": 6.8, "b": 90, "c": 4.3}, {"r": 10, "a": 6.8, "b": 90, "c": 4.3}, {"r": 15, "a": 6.8, "b": 90, "c": 4.3}]},
   "layer": [
   {"mark": {"type": "rule", "color": "#555", "strokeWidth": 1.4, "strokeDash": [3, 2.5]},
    "encoding": {"y": {"field": "r", "type": "quantitative", "scale": {"domain": [-3, 21], "nice": false, "zero": false}, "axis": {"orient": "right", "values": [-3,-1.5,0,1.5,3,4.5,6,7.5,9,10.5,12,13.5,15,16.5,18,19.5,21], "tickCount": 200, "format": ".2~f", "labelExpr": "datum.value % 3 == 0 ? datum.label : ''", "labelOverlap": false, "title": "Tᴍʙ [CO (3-2)] / Tᴍʙ [¹³CO (3-2)]", "titleX": 36, "titleBaseline": "middle"}},
     "x": {"field": "a", "type": "quantitative", "axis": {"orient": "top", "values": [0,10,20,30,40,50,60,70,80,90], "tickCount": 200, "labels": false, "title": null}}, "x2": {"field": "b"}}},
   {"mark": {"type": "text", "font": "Liberation Sans", "fontWeight": "bold", "fontSize": 11, "color": "#111", "align": "center", "baseline": "middle"},
    "encoding": {"y": {"field": "r", "type": "quantitative"}, "x": {"field": "c", "type": "quantitative"}, "text": {"field": "r", "type": "quantitative"}}}
  ]}
 ]
},
{
 "width": 253, "height": 202,
 "resolve": {"scale": {"y": "independent"}, "axis": {"x": "independent"}},
 "layer": [
  {"layer": [
   {"data": {"name": "p4"}, "transform": [{"filter": "datum.s==='co'"}], "mark": {"type": "line", "interpolate": "step-after", "color": "#5a5a5a", "strokeWidth": 1.8, "clip": true},
    "encoding": {"x": {"field": "v", "type": "quantitative", "scale": {"domain": [0, 90], "nice": false, "zero": false}, "axis": {"values": [0,10,20,30,40,50,60,70,80,90], "tickCount": 200, "format": ".2~f", "labelExpr": "datum.value % 20 == 0 ? datum.label : ''", "labelOverlap": false, "title": null}},
     "y": {"field": "t", "type": "quantitative", "scale": {"domain": [-1, 8], "nice": false, "zero": false}, "axis": {"orient": "left", "values": [-1,0,1,2,3,4,5,6,7,8], "tickCount": 200, "format": ".2~f", "labelExpr": "datum.value % 2 == 0 ? datum.label : ''", "labelOverlap": false, "title": "Tᴍʙ (K)", "titleX": -44, "titleBaseline": "middle"}}}},
   {"data": {"name": "p4"}, "transform": [{"filter": "datum.s==='c13'"}], "mark": {"type": "line", "interpolate": "step-after", "color": "#2ee82e", "strokeWidth": 1.8, "clip": true},
    "encoding": {"x": {"field": "v", "type": "quantitative"}, "y": {"field": "t", "type": "quantitative"}}},
   {"data": {"values": [{"z": 0}]}, "mark": {"type": "rule", "color": "#000", "strokeWidth": 2}, "encoding": {"y": {"field": "z", "type": "quantitative"}}},
   {"data": {"name": "p4"}, "transform": [{"filter": "datum.s==='o'"}], "mark": {"type": "circle", "color": "#ff9a2e", "opacity": 1, "size": 22},
    "encoding": {"x": {"field": "v", "type": "quantitative"}, "y": {"field": "t", "type": "quantitative"}}},
   {"data": {"name": "p4"}, "transform": [{"filter": "datum.s==='r'"}], "mark": {"type": "circle", "color": "#c80f00", "opacity": 1, "size": 22},
    "encoding": {"x": {"field": "v", "type": "quantitative"}, "y": {"field": "t", "type": "quantitative"}}},
   {"data": {"values": [{"name": "W44F2", "v": 67.5, "t": 7.25}]}, "mark": {"type": "text", "font": "Liberation Sans", "fontWeight": "bold", "fontSize": 11, "color": "#111"},
    "encoding": {"x": {"field": "v", "type": "quantitative"}, "y": {"field": "t", "type": "quantitative"}, "text": {"field": "name"}}}
  ]},
  {"data": {"values": [{"r": 5, "a": 6.8, "b": 90, "c": 4.3}, {"r": 10, "a": 6.8, "b": 90, "c": 4.3}, {"r": 15, "a": 6.8, "b": 90, "c": 4.3}]},
   "layer": [
   {"mark": {"type": "rule", "color": "#555", "strokeWidth": 1.4, "strokeDash": [3, 2.5]},
    "encoding": {"y": {"field": "r", "type": "quantitative", "scale": {"domain": [-3, 24], "nice": false, "zero": false}, "axis": {"orient": "right", "values": [-3,0,3,6,9,12,15,18,21,24], "tickCount": 200, "format": ".2~f", "labelExpr": "datum.value % 6 == 0 && datum.value >= 0 ? datum.label : ''", "labelOverlap": false, "title": "Tᴍʙ [CO (3-2)] / Tᴍʙ [¹³CO (3-2)]", "titleX": 36, "titleBaseline": "middle"}},
     "x": {"field": "a", "type": "quantitative", "axis": {"orient": "top", "values": [0,10,20,30,40,50,60,70,80,90], "tickCount": 200, "labels": false, "title": null}}, "x2": {"field": "b"}}},
   {"mark": {"type": "text", "font": "Liberation Sans", "fontWeight": "bold", "fontSize": 11, "color": "#111", "align": "center", "baseline": "middle"},
    "encoding": {"y": {"field": "r", "type": "quantitative"}, "x": {"field": "c", "type": "quantitative"}, "text": {"field": "r", "type": "quantitative"}}}
  ]}
 ]
},
{
 "width": 253, "height": 204,
 "resolve": {"scale": {"y": "independent"}, "axis": {"x": "independent"}},
 "layer": [
  {"layer": [
   {"data": {"name": "p5"}, "transform": [{"filter": "datum.s==='co'"}], "mark": {"type": "line", "interpolate": "step-after", "color": "#5a5a5a", "strokeWidth": 1.8, "clip": true},
    "encoding": {"x": {"field": "v", "type": "quantitative", "scale": {"domain": [0, 90], "nice": false, "zero": false}, "axis": {"values": [0,10,20,30,40,50,60,70,80,90], "tickCount": 200, "format": ".2~f", "labelExpr": "datum.value % 20 == 0 ? datum.label : ''", "labelOverlap": false, "title": "Velocity (km s⁻¹)", "titleFontSize": 12, "titlePadding": 7}},
     "y": {"field": "t", "type": "quantitative", "scale": {"domain": [-1, 6], "nice": false, "zero": false}, "axis": {"orient": "left", "values": [-1,-0.5,0,0.5,1,1.5,2,2.5,3,3.5,4,4.5,5,5.5,6], "tickCount": 200, "format": ".2~f", "labelExpr": "datum.value % 1 == 0 ? datum.label : ''", "labelOverlap": false, "title": "Tᴍʙ (K)", "titleX": -44, "titleBaseline": "middle"}}}},
   {"data": {"name": "p5"}, "transform": [{"filter": "datum.s==='c13'"}], "mark": {"type": "line", "interpolate": "step-after", "color": "#2ee82e", "strokeWidth": 1.8, "clip": true},
    "encoding": {"x": {"field": "v", "type": "quantitative"}, "y": {"field": "t", "type": "quantitative"}}},
   {"data": {"values": [{"z": 0}]}, "mark": {"type": "rule", "color": "#000", "strokeWidth": 2.5}, "encoding": {"y": {"field": "z", "type": "quantitative"}}},
   {"data": {"name": "p5"}, "transform": [{"filter": "datum.s==='o'"}], "mark": {"type": "circle", "color": "#ff9a2e", "opacity": 1, "size": 22},
    "encoding": {"x": {"field": "v", "type": "quantitative"}, "y": {"field": "t", "type": "quantitative"}}},
   {"data": {"name": "p5"}, "transform": [{"filter": "datum.s==='r'"}], "mark": {"type": "circle", "color": "#c80f00", "opacity": 1, "size": 22},
    "encoding": {"x": {"field": "v", "type": "quantitative"}, "y": {"field": "t", "type": "quantitative"}}},
   {"data": {"values": [{"name": "W44F3", "v": 67.2, "t": 5.43}]}, "mark": {"type": "text", "font": "Liberation Sans", "fontWeight": "bold", "fontSize": 11, "color": "#111"},
    "encoding": {"x": {"field": "v", "type": "quantitative"}, "y": {"field": "t", "type": "quantitative"}, "text": {"field": "name"}}}
  ]},
  {"data": {"values": [{"r": 5, "a": 6.8, "b": 90, "c": 4.3}, {"r": 10, "a": 6.8, "b": 90, "c": 4.3}, {"r": 20, "a": 6.8, "b": 90, "c": 4.3}]},
   "layer": [
   {"mark": {"type": "rule", "color": "#555", "strokeWidth": 1.4, "strokeDash": [3, 2.5]},
    "encoding": {"y": {"field": "r", "type": "quantitative", "scale": {"domain": [-4, 24], "nice": false, "zero": false}, "axis": {"orient": "right", "values": [-4,-2,0,2,4,6,8,10,12,14,16,18,20,22,24], "tickCount": 200, "format": ".2~f", "labelExpr": "datum.value % 4 == 0 ? datum.label : ''", "labelOverlap": false, "title": "Tᴍʙ [CO (3-2)] / Tᴍʙ [¹³CO (3-2)]", "titleX": 36, "titleBaseline": "middle"}},
     "x": {"field": "a", "type": "quantitative", "axis": {"orient": "top", "values": [0,10,20,30,40,50,60,70,80,90], "tickCount": 200, "labels": false, "title": null}}, "x2": {"field": "b"}}},
   {"mark": {"type": "text", "font": "Liberation Sans", "fontWeight": "bold", "fontSize": 11, "color": "#111", "align": "center", "baseline": "middle"},
    "encoding": {"y": {"field": "r", "type": "quantitative"}, "x": {"field": "c", "type": "quantitative"}, "text": {"field": "r", "type": "quantitative"}}}
  ]}
 ]
}
]
}
